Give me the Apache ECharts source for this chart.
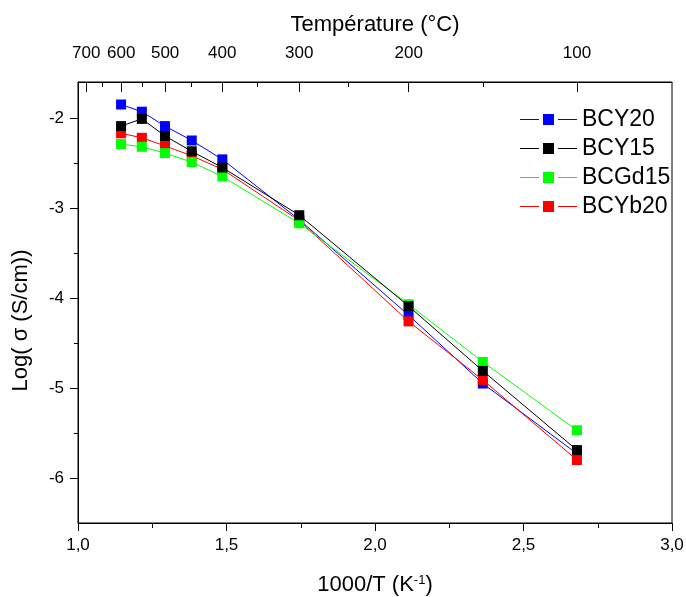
<!DOCTYPE html>
<html><head><meta charset="utf-8">
<script src="https://cdn.jsdelivr.net/npm/echarts@6/dist/echarts.min.js"></script>
<style>html,body{margin:0;padding:0;background:#fff}#c{width:686px;height:597px}</style>
</head><body><div id="c"></div>
<script>
// 1000/T (K^-1) positions of the measurements
const invT = [1.145, 1.215, 1.293, 1.383, 1.486, 1.745, 2.113, 2.363, 2.680];
const BCY20  = [-1.85, -1.93, -2.09, -2.25, -2.46, -3.13, -4.19, -4.95, -5.73];
const BCY15  = [-2.09, -2.01, -2.20, -2.37, -2.55, -3.08, -4.09, -4.81, -5.69];
const BCGd15 = [-2.29, -2.32, -2.39, -2.49, -2.65, -3.17, -4.07, -4.71, -5.47];
const BCYb20 = [-2.17, -2.22, -2.31, -2.42, -2.57, -3.14, -4.26, -4.91, -5.80];
const seriesNames = ['BCY20', 'BCY15', 'BCGd15', 'BCYb20'];
const tempMajor = [700, 600, 500, 400, 300, 200, 100];
const tempMinor = [650, 550, 450, 350, 250, 150];
const yMajor = [-6, -5, -4, -3, -2];
const yMinor = [-5.5, -4.5, -3.5, -2.5];

const FF = "'Liberation Sans', Arial, sans-serif";
const toInv = T => 1000 / (T + 273.15);
const pair = ys => invT.map((x, i) => [x, ys[i]]);

const chart = echarts.init(document.getElementById('c'), null, {renderer: 'canvas'});
const mk = (name, ys, color, z) => ({
  name, type: 'line', data: pair(ys), z,
  symbol: 'rect', symbolSize: 10, showAllSymbol: true,
  lineStyle: {color, width: 1}, itemStyle: {color},
  emphasis: {disabled: true}, animation: false
});
chart.setOption({
  animation: false,
  textStyle: {fontFamily: FF},
  grid: {left: 78, right: 14, top: 82, bottom: 74, show: true, borderColor: '#000', borderWidth: 1, outerBoundsMode: 'none'},
  legend: {
    data: seriesNames, orient: 'vertical', left: 515, top: 103,
    icon: 'path://M0,5h19v1H0z M23,0h11v11H23z M38,5h19v1H38z',
    itemWidth: 57, itemHeight: 11, itemGap: 6,
    textStyle: {fontSize: 23, color: '#000', fontFamily: FF},
    selectedMode: false
  },
  xAxis: [
    {
      type: 'value', min: 1, max: 3, interval: 0.5, position: 'bottom',
      axisLine: {show: true, onZero: false, lineStyle: {color: '#000', width: 1}},
      axisTick: {show: true, inside: false, length: 8, lineStyle: {color: '#000'}},
      minorTick: {show: true, splitNumber: 2, length: 5, lineStyle: {color: '#000'}},
      splitLine: {show: false},
      axisLabel: {fontSize: 17, color: '#000', margin: 14, fontFamily: FF,
        formatter: v => v.toFixed(1).replace('.', ',')},
      name: '1000/T (K{sup|-1})', nameLocation: 'middle', nameGap: 51,
      nameTextStyle: {fontSize: 22, color: '#000', fontFamily: FF,
        rich: {sup: {fontSize: 13, verticalAlign: 'top', padding: [0, 0, 7, 0], color: '#000', fontFamily: FF}}}
    },
    {
      type: 'value', min: 1, max: 3, position: 'top',
      axisLine: {show: true, onZero: false, lineStyle: {color: '#000', width: 1}},
      axisTick: {show: true, inside: true, length: 10, customValues: tempMajor.map(toInv), lineStyle: {color: '#000'}},
      axisLabel: {show: true, customValues: tempMajor.map(toInv), fontSize: 17, color: '#000', margin: 20, fontFamily: FF,
        formatter: v => String(Math.round(1000 / v - 273.15))},
      splitLine: {show: false},
      name: 'Température (°C)', nameLocation: 'middle', nameGap: 46,
      nameTextStyle: {fontSize: 22, color: '#000', fontFamily: FF}
    },
    {
      type: 'value', min: 1, max: 3, position: 'top',
      axisLine: {show: false},
      axisTick: {show: true, inside: true, length: 5, customValues: tempMinor.map(toInv), lineStyle: {color: '#000'}},
      axisLabel: {show: false},
      splitLine: {show: false}
    }
  ],
  yAxis: [
    {
      type: 'value', min: -6.5, max: -1.6, position: 'left',
      axisLine: {show: true, onZero: false, lineStyle: {color: '#000', width: 1}},
      axisTick: {show: true, inside: false, length: 8, customValues: yMajor, lineStyle: {color: '#000'}},
      axisLabel: {show: true, customValues: yMajor, fontSize: 17, color: '#000', margin: 14, fontFamily: FF},
      splitLine: {show: false},
      name: 'Log( σ (S/cm))', nameLocation: 'middle', nameGap: 46,
      nameTextStyle: {fontSize: 22, color: '#000', fontFamily: FF, padding: [0, 36, 0, 0]}
    },
    {
      type: 'value', min: -6.5, max: -1.6, position: 'left',
      axisLine: {show: false},
      axisTick: {show: true, inside: false, length: 4, customValues: yMinor, lineStyle: {color: '#000'}},
      axisLabel: {show: false},
      splitLine: {show: false}
    }
  ],
  series: [
    mk('BCY20', BCY20, '#0000ff', 2),
    mk('BCY15', BCY15, '#000000', 5),
    mk('BCGd15', BCGd15, '#00ff00', 4),
    mk('BCYb20', BCYb20, '#ff0000', 3)
  ]
});
</script>
</body></html>
